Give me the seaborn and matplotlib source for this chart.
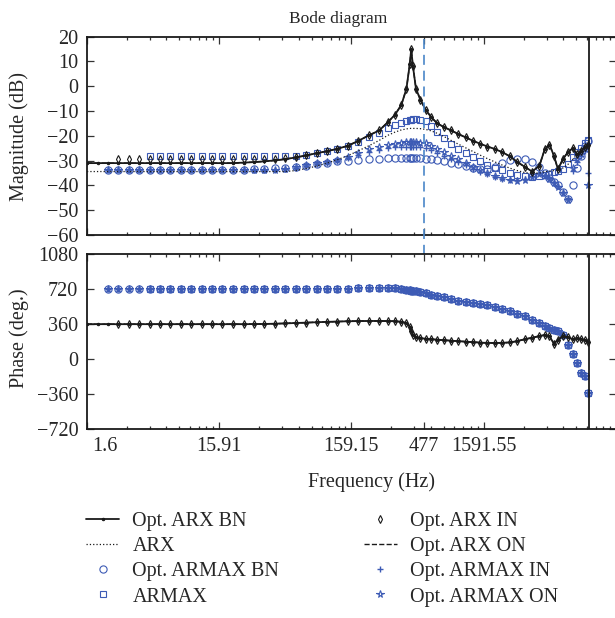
import matplotlib
matplotlib.use("Agg")
import matplotlib.pyplot as plt
import matplotlib.ticker as ticker
import matplotlib.transforms as mtransforms
import seaborn as sns

sns.set_style("ticks")
plt.rcParams['font.family'] = ['Liberation Serif', 'DejaVu Serif']
plt.rcParams['font.size'] = 14.5

FREQ_HZ = [1.6, 1.95, 2.3, 2.75, 3.3, 3.95, 4.75, 5.7, 6.8, 8.2,
           9.8, 11.8, 14.1, 16.9, 20.3, 24.4, 29.2, 35, 42, 50.5,
           60.5, 72.6, 87, 104, 125, 150, 180, 216, 259, 300,
           340, 380, 415, 440, 451, 465, 490, 530, 580, 640,
           710, 800, 900, 1020, 1160, 1320, 1500, 1700, 1930, 2200,
           2500, 2850, 3250, 3700, 4200, 4600, 5000, 5400, 5800, 6300,
           6900, 7500, 8100, 8700, 9300, 9800]

# magnitude (dB) - each list ends at the last frequency point
MAG_ARX_BN = [-31.0, -31.0, -31.0, -31.0, -31.0, -31.0, -31.0, -31.0, -31.0, -31.0,
              -31.0, -31.0, -31.0, -31.0, -31.0, -30.8, -30.6, -30.3, -29.9, -29.4,
              -28.7, -27.9, -27.0, -26.2, -25.2, -24.0, -22.0, -19.8, -17.8, -14.5,
              -11.5, -7.5, -1.0, 9.0, 15.0, 8.0, -1.0, -5.5, -9.5, -12.5,
              -15.0, -16.5, -17.8, -19.2, -20.6, -22.0, -23.2, -24.3, -25.3, -26.6,
              -28.2, -30.5, -32.5, -34.4, -32.0, -25.5, -23.5, -28.0, -33.5, -29.5,
              -26.5, -25.0, -27.5, -26.0, -24.5, -23.5]
MAG_ARX_IN = [-29.5, -29.5, -29.5, -29.5, -29.5, -29.5, -29.5,
              -29.5, -29.5, -29.5, -29.5, -29.5, -29.5, -29.5, -29.5, -29.4, -29.1,
              -28.6, -27.9, -27.0, -26.2, -25.2, -24.0, -22.0, -19.8, -17.8, -14.5,
              -11.5, -7.5, -1.0, 9.0, 15.0, 8.0, -1.0, -5.5, -9.5, -12.5,
              -15.0, -16.5, -17.8, -19.2, -20.6, -22.0, -23.2, -24.3, -25.3, -26.6,
              -28.2, -30.5, -32.5, -34.4, -32.0, -25.5, -23.5, -28.0, -33.5, -29.5,
              -26.5, -25.0, -27.5, -26.0, -24.5, -23.5]
MAG_ARX = [-34.4, -34.4, -34.4, -34.4, -34.4, -34.4, -34.4, -34.4, -34.4, -34.4,
           -34.4, -34.4, -34.4, -34.4, -34.4, -34.4, -34.4, -34.4, -34.4, -34.4,
           -34.0, -33.2, -32.2, -31.0, -29.6, -28.0, -26.0, -24.0, -21.8, -19.8,
           -18.5, -17.6, -17.2, -17.0, -17.0, -17.0, -17.0, -17.1, -17.4, -18.0,
           -19.0, -20.3, -21.8, -23.3, -24.8, -26.3, -27.8, -29.2, -30.5, -31.8,
           -33.0, -34.0, -34.8, -35.2, -35.0, -34.5, -34.2, -34.0, -33.8, -33.0,
           -31.5, -29.5, -27.5, -26.0, -24.5, -23.5]
MAG_ARMAX_BN = [-33.8, -33.8, -33.8, -33.8, -33.8, -33.8, -33.8, -33.8,
                -33.8, -33.8, -33.8, -33.8, -33.7, -33.6, -33.4, -33.2, -33.0, -32.8,
                -32.5, -32.0, -31.5, -30.8, -30.3, -30.0, -29.7, -29.4, -29.2, -29.0,
                -28.9, -28.8, -28.8, -28.8, -28.8, -28.8, -28.9, -29.0, -29.2, -29.5,
                -29.8, -30.3, -30.8, -31.5, -32.2, -33.0, -33.5, -33.4, -32.5, -31.0,
                -29.8, -29.2, -29.5, -30.5, -32.5, -35.0, -37.0, -38.5, -40.0, -42.5,
                -45.5, -40.0, -33.0, -28.0, -24.0, -22.0]
MAG_ARMAX = [-28.2, -28.2, -28.2, -28.2,
             -28.2, -28.2, -28.2, -28.2, -28.2, -28.2, -28.2, -28.2, -28.2, -28.2,
             -28.0, -27.6, -27.0, -26.2, -25.2, -24.0, -22.6, -20.5, -18.8, -17.0,
             -15.8, -14.8, -14.0, -13.7, -13.5, -13.4, -13.4, -13.6, -14.2, -16.0,
             -18.5, -21.0, -23.2, -25.2, -27.0, -28.6, -30.2, -31.6, -32.8, -33.8,
             -34.8, -35.6, -36.2, -36.4, -36.2, -35.8, -35.2, -34.6, -34.0, -33.2,
             -31.5, -28.5, -26.5, -25.0, -23.0, -21.5]
MAG_ARMAX_IN = [-33.8, -33.8, -33.8, -33.8, -33.8, -33.8, -33.8, -33.8,
                -33.8, -33.8, -33.8, -33.8, -33.8, -33.8, -33.8, -33.8, -33.6, -33.3,
                -32.8, -32.1, -31.4, -30.8, -30.0, -29.0, -27.8, -26.6, -25.7, -25.0,
                -24.6, -24.4, -24.3, -24.3, -24.3, -24.3, -24.4, -24.6, -25.0, -25.8,
                -26.8, -28.0, -29.3, -30.6, -31.9, -33.2, -34.4, -35.5, -36.5, -37.3,
                -37.8, -37.9, -37.4, -36.3, -35.0, -35.8, -37.2, -38.8, -40.3, -42.6,
                -45.0, -34.0, -30.5, -28.0, -26.0, -35.0]
MAG_ARMAX_ON = [-33.8, -33.8, -33.8, -33.8, -33.8, -33.8, -33.8, -33.8,
                -33.8, -33.8, -33.8, -33.8, -33.8, -33.8, -33.8, -33.8, -33.6, -33.2,
                -32.6, -31.8, -31.0, -30.6, -29.6, -28.4, -26.8, -25.5, -24.5, -23.6,
                -23.1, -22.8, -22.6, -22.5, -22.4, -22.4, -22.5, -22.7, -23.0, -24.0,
                -25.2, -26.5, -28.0, -29.5, -31.0, -32.4, -33.8, -35.0, -36.2, -37.2,
                -38.0, -38.4, -38.0, -36.8, -35.2, -36.0, -37.5, -39.0, -40.5, -43.0,
                -45.8, -33.0, -29.5, -27.5, -25.5, -40.0]

# phase (deg)
PH_ARX = [360, 360, 360, 360, 360, 360, 360, 360, 360, 360,
          360, 360, 360, 360, 360, 360, 361, 362, 365, 368,
          372, 376, 380, 384, 387, 390, 392, 393, 393, 392,
          390, 385, 372, 335, 290, 250, 226, 216, 210, 205,
          200, 195, 190, 185, 180, 175, 170, 167, 166, 168,
          172, 185, 205, 220, 238, 248, 235, 160, 200, 235,
          225, 205, 215, 205, 195, 180]
PH_ARMAX = [720, 720, 720, 720, 720, 720, 720, 720,
            720, 720, 720, 720, 720, 720, 720, 720, 720, 720,
            720, 720, 720, 720, 722, 726, 730, 732, 733, 732,
            728, 722, 715, 710, 707, 703, 698, 690, 678, 665,
            652, 635, 618, 603, 590, 578, 566, 553, 537, 518,
            497, 470, 440, 405, 372, 345, 325, 305, 285, 250,
            150, 50, -40, -140, -175, -350]

NYQUIST_HZ = 10000
MARK_HZ = 566          # dashed marker line
MARK_LABEL = '477'

BLUE = '#3d5bb5'
BLACK = '#1a1a1a'


def draw(ax, vals, **kw):
    f = FREQ_HZ[len(FREQ_HZ) - len(vals):]
    sns.lineplot(x=f, y=vals, ax=ax, sort=False, estimator=None, legend=False, **kw)


fig = plt.figure(figsize=(6.15, 6.18), dpi=100)
ax1 = fig.add_axes([86.7 / 615, 1 - 235 / 618, 529.3 / 615, 198.3 / 618])
ax2 = fig.add_axes([86.7 / 615, 1 - 429 / 618, 529.3 / 615, 174.7 / 618])


def open_mk(c):
    return dict(color=c, linestyle='', markerfacecolor='none', markeredgecolor=c, markeredgewidth=0.8)


series = [
    # label, magnitude, phase, style
    ('Opt. ARMAX BN', MAG_ARMAX_BN, PH_ARMAX, dict(marker='o', markersize=5.2, **open_mk(BLUE))),
    ('ARMAX', MAG_ARMAX, PH_ARMAX[4:], dict(marker='s', markersize=5, **open_mk(BLUE))),
    ('Opt. ARMAX IN', MAG_ARMAX_IN, PH_ARMAX, dict(marker='+', markersize=4.5, color=BLUE, markeredgecolor=BLUE,
                                                   linestyle='', markeredgewidth=1.0)),
    ('Opt. ARMAX ON', MAG_ARMAX_ON, PH_ARMAX, dict(marker='*', markersize=5.5, **open_mk(BLUE))),
    ('ARX', MAG_ARX, PH_ARX, dict(color=BLACK, linestyle=':', linewidth=0.9)),
    ('Opt. ARX ON', MAG_ARX_BN, PH_ARX, dict(color=BLACK, linestyle='--', linewidth=1.0)),
    ('Opt. ARX IN', MAG_ARX_IN, PH_ARX[3:], dict(marker='d', markersize=4.0, **open_mk(BLACK))),
    ('Opt. ARX BN', MAG_ARX_BN, PH_ARX, dict(color=BLACK, linestyle='-', linewidth=1.3, marker='.',
                                             markersize=3.5, markeredgecolor=BLACK, markerfacecolor=BLACK)),
]

for ax in (ax1, ax2):
    ax.set_xscale('log')

for label, mag, ph, style in series:
    draw(ax1, mag, label=label, **style)
    draw(ax2, ph, **style)

decades = [1.5915, 15.915, 159.15, 1591.55]
minor = [m * d for d in decades for m in range(2, 10)]
for ax in (ax1, ax2):
    ax.set_xlim(1.5915, 15915)
    ax.axvline(NYQUIST_HZ, color=BLACK, lw=1.3, zorder=5)
    ax.xaxis.set_major_locator(ticker.FixedLocator([1.5915, 15.915, 159.15, MARK_HZ, 1591.55]))
    ax.xaxis.set_minor_locator(ticker.FixedLocator(minor))
    ax.xaxis.set_minor_formatter(ticker.NullFormatter())
    ax.tick_params(which='both', direction='in', top=True, right=True, width=0.9, color='#333333')
    ax.tick_params(which='major', length=5, pad=6, labelsize=14.5)
    ax.tick_params(which='minor', length=2.5)
    for s in ax.spines.values():
        s.set_linewidth(1.3)
        s.set_color('#1a1a1a')
    ax.set_xlabel('')
    ax.set_ylabel('')

ax1.set_ylim(-60, 20)
ax1.set_yticks(range(-60, 21, 10))
ax1.tick_params(labelbottom=False)
ax2.set_ylim(-720, 1080)
ax2.set_yticks([-720, -360, 0, 360, 720, 1080])
ax2.xaxis.set_major_formatter(ticker.FixedFormatter(['1.6', '15.91', '159.15', MARK_LABEL, '1591.55']))

# dashed marker running through both panels
ax1.axvline(MARK_HZ, ymin=-0.98, ymax=1, color='#4a86c8', lw=1.2, ls=(0, (6, 3.5)),
            clip_on=False, zorder=6)

fig.canvas.draw()
lab = ax2.xaxis.get_major_ticks()[0].label1
lab.set_horizontalalignment('left')
lab.set_transform(lab.get_transform() + mtransforms.ScaledTranslation(6 / 100, 0, fig.dpi_scale_trans))

fig.text(338 / 615, 1 - 19 / 618, 'Bode diagram', ha='center', va='center', fontsize=12.5)
fig.text(19 / 615, 1 - 136 / 618, 'Magnitude (dB)', rotation=90, ha='center', va='center', fontsize=14.5)
fig.text(19 / 615, 1 - 338 / 618, 'Phase (deg.)', rotation=90, ha='center', va='center', fontsize=14.5)
fig.text(371 / 615, 1 - 482 / 618, 'Frequency (Hz)', ha='center', va='center', fontsize=14.5)

handles, labels = ax1.get_legend_handles_labels()
hmap = dict(zip(labels, handles))
order = ['Opt. ARX BN', 'ARX', 'Opt. ARMAX BN', 'ARMAX',
         'Opt. ARX IN', 'Opt. ARX ON', 'Opt. ARMAX IN', 'Opt. ARMAX ON']
fig.legend([hmap[k] for k in order], order, loc='upper left',
           bbox_to_anchor=(86 / 615, 1 - 512 / 618), ncol=2, frameon=False,
           fontsize=14.5, handlelength=1.65, handletextpad=0.65, columnspacing=4.2,
           labelspacing=0.3, borderpad=0, borderaxespad=0, numpoints=1)

fig.savefig('out.png', dpi=100)
